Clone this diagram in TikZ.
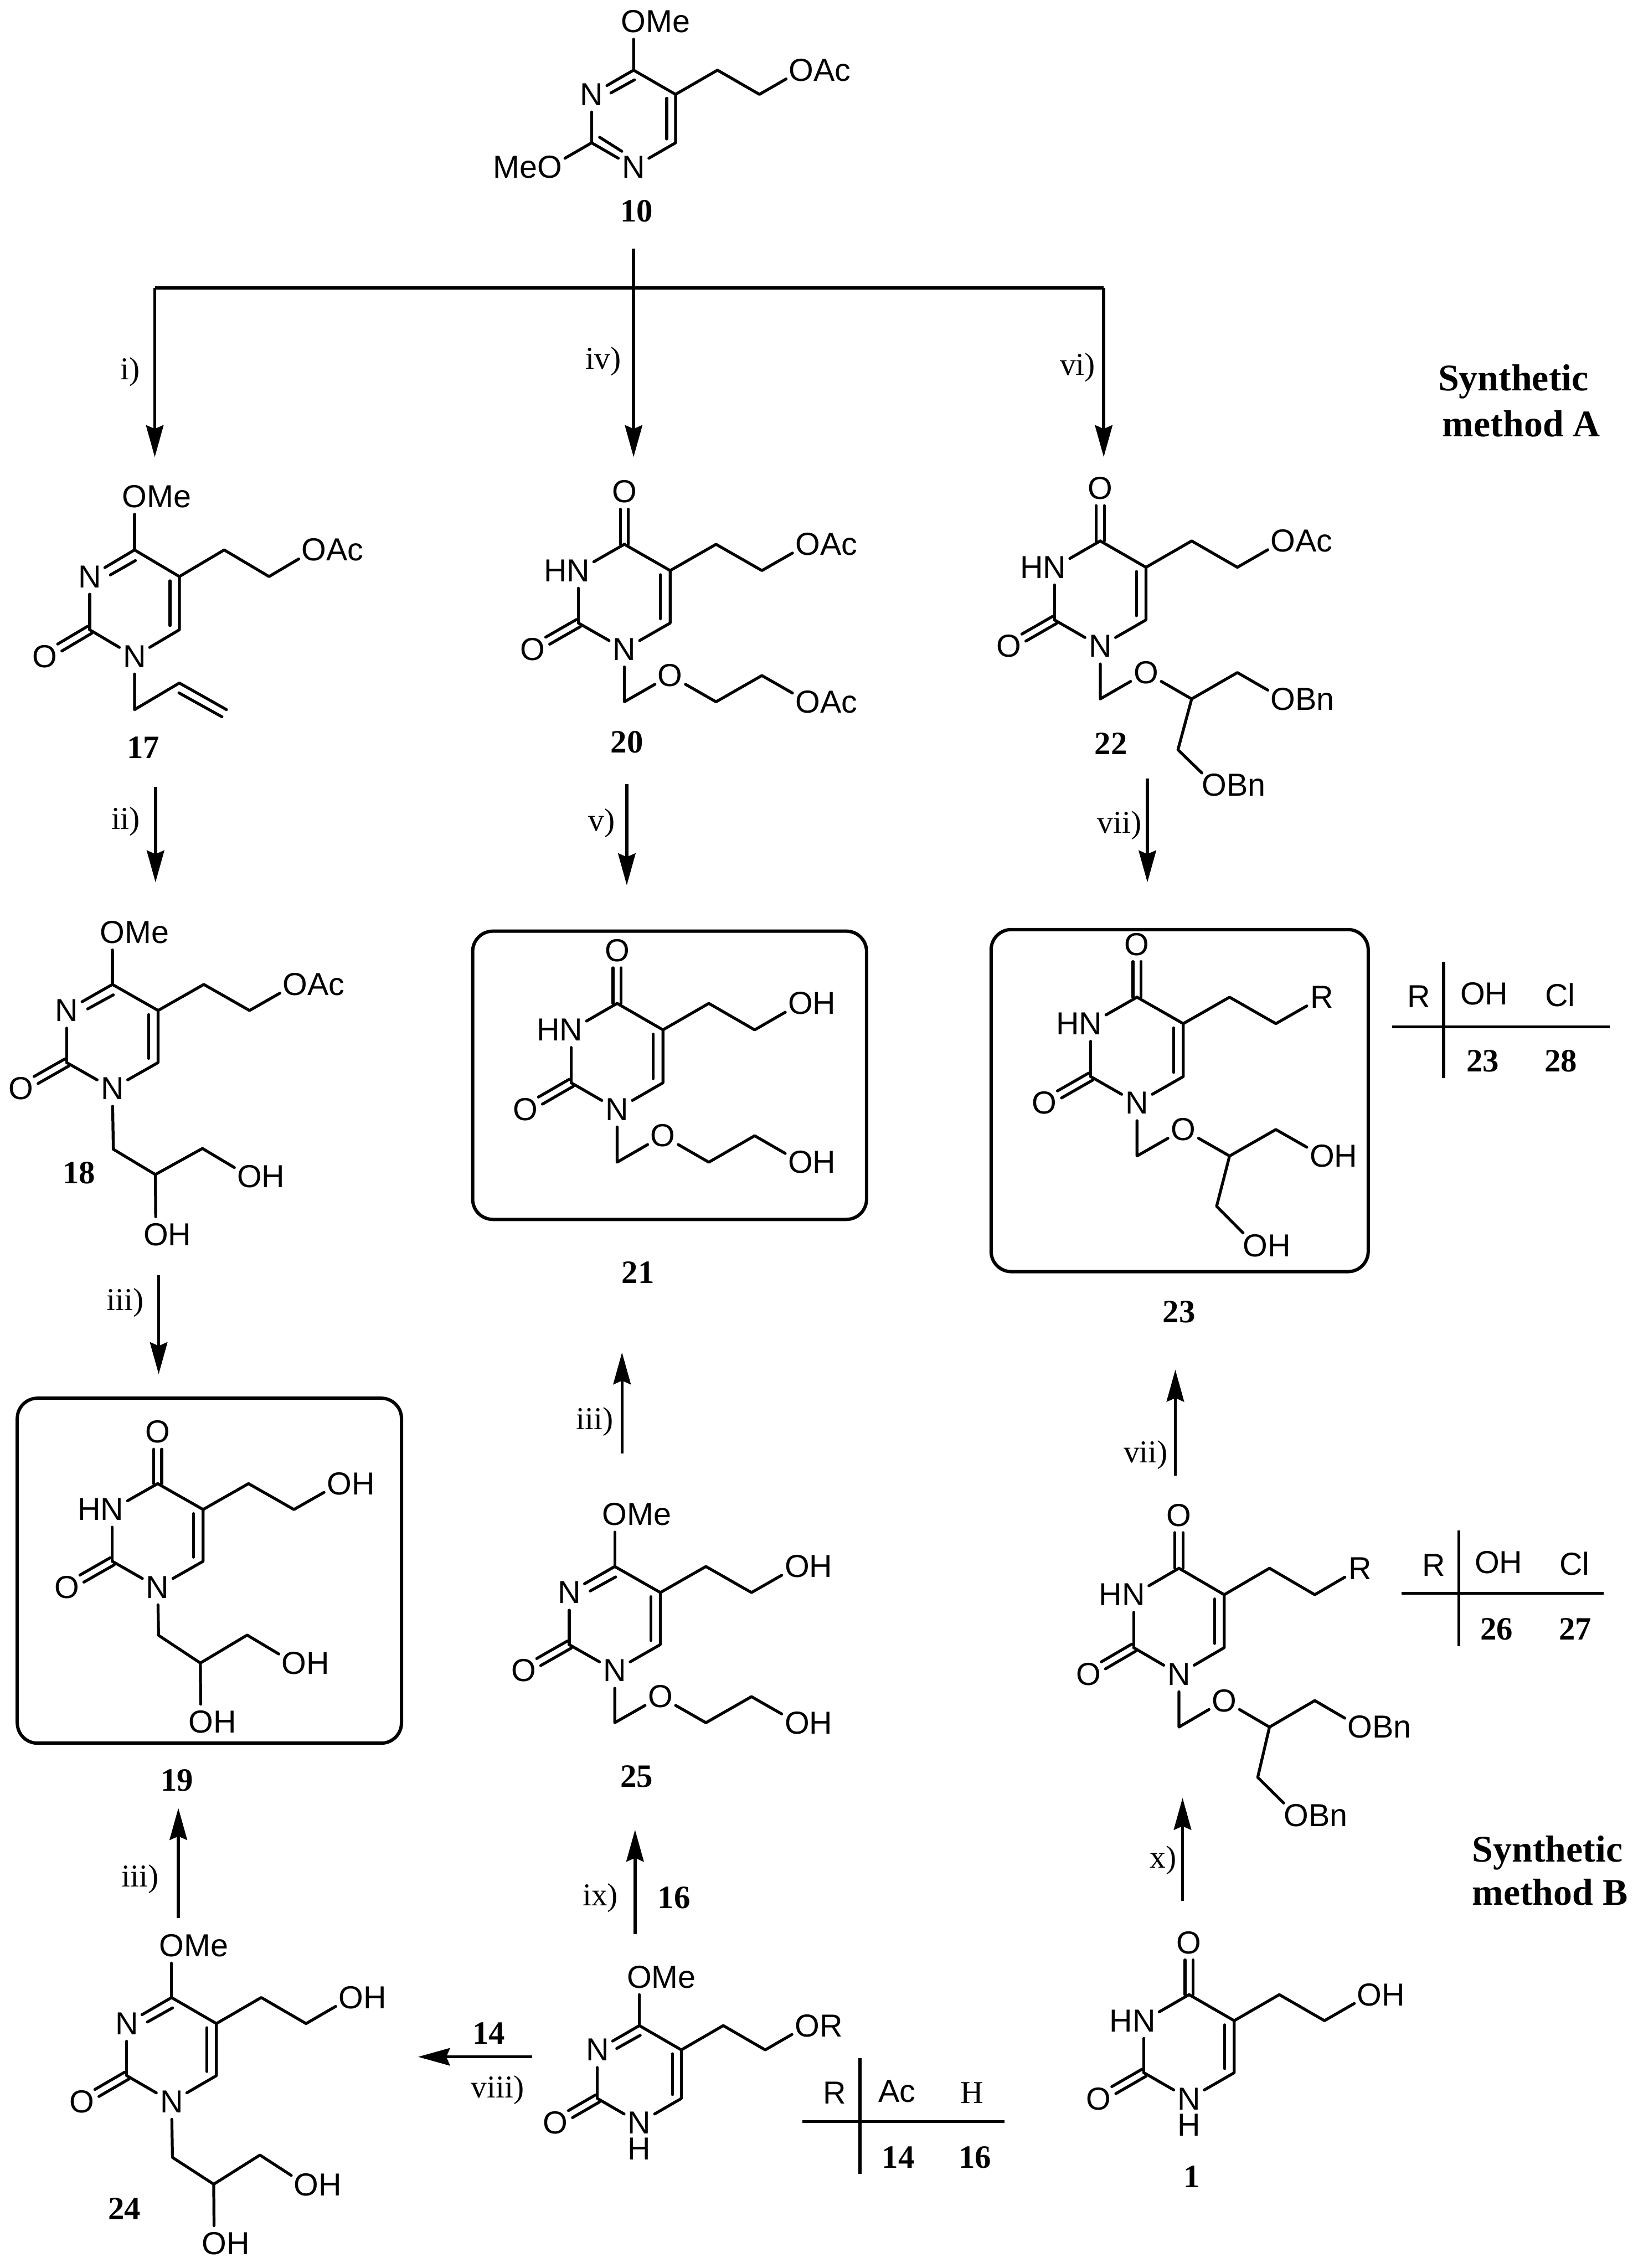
\documentclass[tikz,border=0pt]{standalone}
\usepackage{fontspec}
\setmainfont{Liberation Serif}
\newfontfamily\atomfont{Liberation Sans}
\usetikzlibrary{calc,arrows.meta}
\tikzset{
  mol/.style n args={4}{shift={(#1,#2)},x=#3pt,y=-#4pt},
  bond/.style={line width=2pt,line cap=round,line join=round},
  atom/.style={circle,inner sep=0pt,minimum size=24pt,font=\atomfont\fontsize{22}{24}\selectfont},
  chem/.style={inner sep=0pt,font=\atomfont\fontsize{22}{24}\selectfont},
  cmpd/.style={inner sep=0pt,font=\bfseries\fontsize{22.5}{24}\selectfont},
  reag/.style={inner sep=0pt,font=\fontsize{22}{24}\selectfont},
  method/.style={inner sep=0pt,anchor=west,font=\bfseries\fontsize{26}{30}\selectfont},
  rule/.style={line width=2.1pt},
  arr/.style={line width=2.1pt,-{Stealth[length=22pt,width=12pt,inset=2.5pt]}},
  panel/.style={draw,line width=2.3pt,rounded corners=14pt,anchor=north west,inner sep=0pt},
}
\newcommand\dbl[2]{%
  \draw[bond,shorten >=12pt] ($(#1)!2.8pt!90:(#2)$)--($(#2)!2.8pt!-90:(#1)$);
  \draw[bond,shorten >=12pt] ($(#1)!2.8pt!-90:(#2)$)--($(#2)!2.8pt!90:(#1)$);}
\newcommand\ringcore[4]{%
  \node[atom] (#1n1) at (0,2) {N};
  \node[atom] (#1n3) at (-1,-1) {#2};
  \node[atom] (#1ot) at (0,-4) {#3};
  \node[atom] (#1oe) at (4,-2) {#4};
  \coordinate (#1c4) at (0,-2);
  \coordinate (#1c5) at (1,-1);
  \coordinate (#1c6) at (1,1);
  \coordinate (#1c2) at (-1,1);
  \coordinate (#1a) at (2,-2);
  \coordinate (#1b) at (3,-1);
  \coordinate (#1i1) at (.79,-.84);
  \coordinate (#1i2) at (.79,.84);
  \draw[bond] (#1c2)--(#1n1)--(#1c6)--(#1c5)--(#1c4);
  \draw[bond] (#1i1)--(#1i2);
  \draw[bond] (#1c5)--(#1a)--(#1b)--(#1oe);
  \draw[bond] (#1n3)--(#1c2);}
\newcommand\keto[1]{%
  \node[atom] (#1ol) at (-2,2) {O};
  \dbl{#1c2}{#1ol}}
\newcommand\uracil[2]{%
  \ringcore{#1}{\llap{H}N}{O}{#2}\keto{#1}
  \dbl{#1c4}{#1ot}
  \draw[bond] (#1c4)--(#1n3);}
\newcommand\lactim[2]{%
  \ringcore{#1}{N}{O\rlap{Me}}{#2}\keto{#1}
  \coordinate (#1j1) at (.02,-1.6);
  \coordinate (#1j2) at (-.54,-1.06);
  \draw[bond] (#1c4)--(#1ot);
  \draw[bond] (#1c4)--(#1n3);
  \draw[bond] (#1j1)--(#1j2);}
% prefix, then the row of each of the side-chain atoms
\newcommand\glycerol[6]{%
  \coordinate (#1d) at (0.02,#2);
  \coordinate (#1e) at (.94,#3);
  \coordinate (#1f) at (1.97,#4);
  \node[atom] (#1g) at (3,#5) {O\rlap{H}};
  \node[atom] (#1h) at (.95,#6) {O\rlap{H}};
  \draw[bond] (#1n1)--(#1d)--(#1e)--(#1f)--(#1g);
  \draw[bond] (#1e)--(#1h);}
\newcommand\ether[2]{%
  \coordinate (#1d) at (0,4);
  \node[atom] (#1o) at (1,3) {O};
  \coordinate (#1e) at (2,4);
  \coordinate (#1f) at (3,3);
  \node[atom] (#1g) at (4,4) {#2};
  \draw[bond] (#1n1)--(#1d)--(#1o)--(#1e)--(#1f)--(#1g);}
\newcommand\branch[6]{%
  \coordinate (#1k) at (#3,#4);
  \node[atom] (#1h) at (#5,#6) {#2};
  \draw[bond] (#1e)--(#1k)--(#1h);}
\newcommand\arrowbetween[5]{%
  \coordinate (#1s) at (#2,#3);
  \coordinate (#1t) at (#4,#5);
  \draw[arr] (#1s)--(#1t);}
\newcommand\ruletable[7]{%
  \coordinate (#1v1) at (#2,#3);
  \coordinate (#1v2) at (#2,#4);
  \coordinate (#1h1) at (#6,#5);
  \coordinate (#1h2) at (#7,#5);
  \draw[rule] (#1v1)--(#1v2);
  \draw[rule] (#1h1)--(#1h2);}
\begin{document}
\begin{tikzpicture}[x=1pt,y=-1pt]
\useasboundingbox (0,0) rectangle (1132,1568);

% ---------- compound 10
\begin{scope}[mol={438}{82}{29}{16.75}]
  \node[atom] (Tn1) at (0,2) {N};
  \node[atom] (Tn3) at (-1,-1) {N};
  \node[atom] (Tot) at (0,-4) {O\rlap{Me}};
  \node[atom] (Toe) at (4,-2) {O\rlap{Ac}};
  \node[atom] (Tom) at (-2,2) {\llap{Me}O};
  \coordinate (Tc4) at (0,-2);
  \coordinate (Tc5) at (1,-1);
  \coordinate (Tc6) at (1,1);
  \coordinate (Tc2) at (-1,1);
  \coordinate (Ta) at (2,-2);
  \coordinate (Tb) at (3,-1);
  \coordinate (Ti1) at (.79,-.84);
  \coordinate (Ti2) at (.79,.84);
  \coordinate (Tj1) at (.02,-1.6);
  \coordinate (Tj2) at (-.54,-1.06);
  \coordinate (Tk1) at (-.81,.77);
  \coordinate (Tk2) at (-.28,1.35);
  \draw[bond] (Tot)--(Tc4)--(Tn3);
  \draw[bond] (Tn3)--(Tc2)--(Tn1);
  \draw[bond] (Tn1)--(Tc6)--(Tc5)--(Tc4);
  \draw[bond] (Tc5)--(Ta)--(Tb)--(Toe);
  \draw[bond] (Tc2)--(Tom);
  \draw[bond] (Ti1)--(Ti2);
  \draw[bond] (Tj1)--(Tj2);
  \draw[bond] (Tk1)--(Tk2);
\end{scope}
\node[cmpd] (L10) at (440,146) {10};

% ---------- top distribution
\coordinate (tee0) at (438,172);
\coordinate (teeL) at (107,199);
\coordinate (teeM) at (438,199);
\coordinate (teeR) at (763,199);
\draw[rule] (teeL)--(teeR);
\coordinate (tipL) at (107,316);
\coordinate (tipM) at (438,316);
\coordinate (tipR) at (763,316);
\draw[arr] (tee0)--(tipM);
\draw[arr] (teeL)--(tipL);
\draw[arr] (teeR)--(tipR);
\node[reag] (Ri) at (90,257) {i)};
\node[reag] (Riv) at (417,250) {iv)};
\node[reag] (Rvi) at (745,254) {vi)};
\node[method] (MA1) at (994,264) {Synthetic};
\node[method] (MA2) at (997,293) {method A};

% ---------- 17
\begin{scope}[mol={93}{417}{31}{18.4}]
  \lactim{A}{O\rlap{Ac}}
  \coordinate (Ad) at (0,4);
  \coordinate (Ae) at (1,3);
  \coordinate (Af) at (2.05,4);
  \coordinate (Ag) at (.99,3.37);
  \coordinate (Ah) at (1.95,4.27);
  \draw[bond] (An1)--(Ad)--(Ae)--(Af);
  \draw[bond] (Ag)--(Ah);
\end{scope}
\node[cmpd] (L17) at (99,517) {17};
\arrowbetween{a2}{107.5}{544}{107.5}{610}
\node[reag] (Rii) at (87,568) {ii)};

% ---------- 18
\begin{scope}[mol={77.7}{716.6}{31.6}{18}]
  \lactim{B}{O\rlap{Ac}}
  \glycerol{B}{4.33}{5.3}{4.3}{5.38}{7.6}
\end{scope}
\node[cmpd] (L18) at (54.6,811) {18};
\arrowbetween{a3}{109.7}{881.6}{109.7}{950}
\node[reag] (Riii) at (86.7,900.6) {iii)};

% ---------- 19
\node[panel,minimum width=265.6pt,minimum height=238.5pt] (box19) at (10.8,965.5) {};
\begin{scope}[mol={109}{1061.5}{31.4}{17.9}]
  \uracil{C}{O\rlap{H}}
  \glycerol{C}{3.86}{4.93}{3.85}{4.93}{7.2}
\end{scope}
\node[cmpd] (L19) at (122.3,1231) {19};

% ---------- 24
\begin{scope}[mol={118.6}{1417}{31}{18}]
  \lactim{D}{O\rlap{H}}
  \glycerol{D}{4.14}{5.17}{4.05}{5.2}{7.44}
\end{scope}
\node[cmpd] (L24) at (86,1527) {24};
\arrowbetween{a4}{123.3}{1326}{123.3}{1250}
\node[reag] (Riiib) at (97,1299) {iii)};

% ---------- 20
\begin{scope}[mol={431.6}{412.6}{31.7}{18.15}]
  \uracil{E}{O\rlap{Ac}}
  \ether{E}{O\rlap{Ac}}
\end{scope}
\node[cmpd] (L20) at (433.4,513) {20};
\arrowbetween{a5}{433.3}{542}{433.3}{612}
\node[reag] (Rv) at (416,569) {v)};

% ---------- 21
\node[panel,minimum width=272.3pt,minimum height=199.3pt] (box21) at (325.6,642.6) {};
\begin{scope}[mol={426.6}{730.3}{31.7}{18.3}]
  \uracil{F}{O\rlap{H}}
  \ether{F}{O\rlap{H}}
\end{scope}
\node[cmpd] (L21) at (441,879.8) {21};
\arrowbetween{a6}{430}{1005}{430}{935}
\node[reag] (Riiic) at (411,983) {iii)};

% ---------- 25
\begin{scope}[mol={425}{1119}{31.5}{18}]
  \lactim{G}{O\rlap{H}}
  \ether{G}{O\rlap{H}}
\end{scope}
\node[cmpd] (L25) at (440,1228) {25};
\arrowbetween{a7}{439}{1337}{439}{1265}
\node[reag] (Rix) at (415,1312) {ix)};
\node[cmpd] (L16a) at (466,1312) {16};

% ---------- 14/16
\begin{scope}[mol={442}{1434}{29}{16.8}]
  \lactim{H}{O\rlap{R}}
  \node[chem] (Hh) at (0,3.08) {H};
\end{scope}
\arrowbetween{a8}{368}{1422}{289}{1422}
\node[cmpd] (L14a) at (338,1405.6) {14};
\node[reag] (Rviii) at (344,1445) {viii)};
\ruletable{Q}{594.5}{1423}{1503}{1466.7}{554.5}{694.6}
\node[chem] (Qr) at (577,1447) {R};
\node[chem] (Qa) at (620,1446) {Ac};
\node[reag] (Qh) at (672,1447) {H};
\node[cmpd] (Q14) at (621,1491.5) {14};
\node[cmpd] (Q16) at (674,1491.5) {16};

% ---------- 22
\begin{scope}[mol={760.6}{410.4}{31.6}{18.2}]
  \uracil{J}{O\rlap{Ac}}
  \ether{J}{O\rlap{Bn}}
  \branch{J}{O\rlap{Bn}}{1.7}{5.93}{2.5}{7.28}
\end{scope}
\node[cmpd] (L22) at (768,514) {22};
\arrowbetween{a9}{793.2}{538.3}{793.2}{610}
\node[reag] (Rvii) at (773.8,570.8) {vii)};

% ---------- 23
\node[panel,minimum width=260.7pt,minimum height=236.5pt] (box23) at (684,641.5) {};
\begin{scope}[mol={786}{726}{32}{18.3}]
  \uracil{K}{R}
  \ether{K}{O\rlap{H}}
  \branch{K}{O\rlap{H}}{1.72}{5.9}{2.56}{7.38}
\end{scope}
\node[cmpd] (L23) at (815,907) {23};
\ruletable{S}{998}{665}{745.5}{710}{962.5}{1113}
\node[chem] (Sr) at (981,689) {R};
\node[chem] (Sa) at (1026,687) {OH};
\node[chem] (Sb) at (1078.6,688) {Cl};
\node[cmpd] (S23) at (1025,733.6) {23};
\node[cmpd] (S28) at (1079,733.6) {28};
\arrowbetween{a10}{812.5}{1020}{812.5}{947}
\node[reag] (Rviib) at (792,1006) {vii)};

% ---------- 26/27
\begin{scope}[mol={815}{1120.8}{31.3}{18.3}]
  \uracil{M}{R}
  \ether{M}{O\rlap{Bn}}
  \branch{M}{O\rlap{Bn}}{1.74}{5.9}{2.59}{7.34}
\end{scope}
\ruletable{U}{1008.6}{1058}{1138}{1101.5}{968.8}{1108.5}
\node[chem] (Ur) at (991,1082) {R};
\node[chem] (Ua) at (1036,1080) {OH};
\node[chem] (Ub) at (1088.5,1081) {Cl};
\node[cmpd] (U26) at (1034.5,1126.4) {26};
\node[cmpd] (U27) at (1089,1126.4) {27};
\arrowbetween{a11}{817.5}{1314}{817.5}{1243}
\node[reag] (Rx) at (804,1286) {x)};
\node[method] (MB1) at (1017.5,1281) {Synthetic};
\node[method] (MB2) at (1017.5,1308) {method B};

% ---------- 1
\begin{scope}[mol={822}{1415}{31.2}{18}]
  \uracil{P}{O\rlap{H}}
  \node[chem] (Ph) at (0,3) {H};
\end{scope}
\node[cmpd] (L1) at (824,1505) {1};
\end{tikzpicture}
\end{document}
